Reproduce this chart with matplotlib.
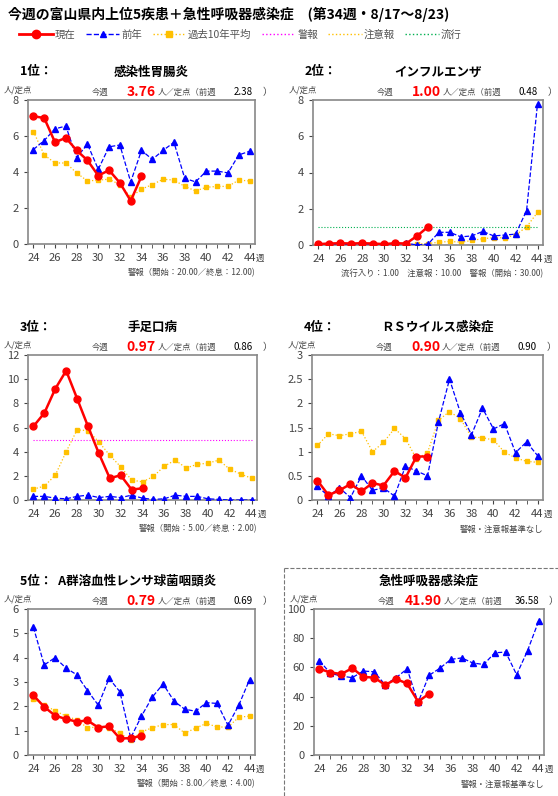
import matplotlib
matplotlib.use("Agg")
import matplotlib.pyplot as plt
from matplotlib.lines import Line2D
import numpy as np

plt.rcParams['font.family'] = ['Noto Sans CJK JP', 'DejaVu Sans']

weeks_cur = list(range(24, 35))
weeks_all = list(range(24, 45))

ranks = ["1位：", "2位：", "3位：", "4位：", "5位：  A群溶血性レンサ球菌咽頭炎", ""]
names = ["感染性胃腸炎", "インフルエンザ", "手足口病", "ＲＳウイルス感染症", "", "急性呼吸器感染症"]
this_week = ["3.76", "1.00", "0.97", "0.90", "0.79", "41.90"]
last_week = ["2.38", "0.48", "0.86", "0.90", "0.69", "36.58"]
notes = ["警報（開始：20.00／終息：12.00)", "流行入り：1.00　注意報：10.00　警報（開始：30.00)",
         "警報（開始：5.00／終息：2.00)", "警報・注意報基準なし",
         "警報（開始：8.00／終息：4.00)", "警報・注意報基準なし"]
ymax = [8, 8, 12, 3, 6, 100]
ystep = [2, 2, 2, 0.5, 1, 20]

current = [
    [7.1, 7.0, 5.65, 5.9, 5.2, 4.65, 3.8, 4.1, 3.4, 2.4, 3.76],
    [0.05, 0.08, 0.1, 0.08, 0.1, 0.08, 0.05, 0.1, 0.08, 0.5, 1.0],
    [6.1, 7.2, 9.2, 10.7, 8.4, 6.1, 3.85, 1.8, 2.05, 0.86, 0.97],
    [0.4, 0.1, 0.2, 0.33, 0.18, 0.35, 0.3, 0.6, 0.46, 0.9, 0.9],
    [2.45, 1.98, 1.62, 1.48, 1.37, 1.42, 1.13, 1.18, 0.68, 0.69, 0.79],
    [59, 56.5, 55.5, 59.5, 53.5, 53, 48, 52, 49, 36.58, 41.9],
]
previous = [
    [5.25, 5.75, 6.4, 6.55, 4.8, 5.55, 4.15, 5.4, 5.5, 3.45, 5.2, 4.7, 5.2, 5.65, 3.65, 3.45, 4.05, 4.05, 3.95, 4.95, 5.15],
    [0.02, 0.05, 0.05, 0.03, 0.0, 0.0, 0.02, 0.05, 0.1, 0.0, 0.05, 0.7, 0.7, 0.45, 0.5, 0.75, 0.5, 0.55, 0.6, 1.9, 7.8],
    [0.3, 0.3, 0.15, 0.1, 0.3, 0.4, 0.2, 0.3, 0.2, 0.4, 0.15, 0.05, 0.1, 0.4, 0.3, 0.3, 0.1, 0.05, 0.0, 0.0, 0.0],
    [0.28, 0.08, 0.25, 0.05, 0.5, 0.2, 0.25, 0.08, 0.7, 0.6, 0.5, 1.62, 2.5, 1.8, 1.35, 1.9, 1.47, 1.58, 0.98, 1.2, 0.92],
    [5.25, 3.7, 4.0, 3.58, 3.3, 2.65, 2.05, 3.15, 2.6, 0.7, 1.6, 2.38, 2.92, 2.22, 1.88, 1.8, 2.15, 2.12, 1.22, 2.05, 3.1],
    [64.5, 56, 54, 53, 57.5, 57, 48, 53, 59, 36, 54.5, 59.5, 65.5, 66.5, 63, 62, 70, 70.5, 55, 71.5, 91.5],
]
average = [
    [6.25, 4.95, 4.5, 4.5, 3.95, 3.5, 3.55, 3.6, 3.3, 2.6, 3.05, 3.3, 3.6, 3.55, 3.2, 2.95, 3.15, 3.2, 3.2, 3.55, 3.5],
    [0.02, 0.02, 0.02, 0.02, 0.02, 0.02, 0.02, 0.02, 0.03, 0.05, 0.08, 0.15, 0.2, 0.15, 0.25, 0.35, 0.4, 0.4, 0.55, 1.0, 1.8],
    [0.9, 1.15, 2.05, 4.0, 5.8, 5.75, 4.8, 3.7, 2.75, 1.65, 1.5, 1.95, 2.8, 3.3, 2.65, 2.95, 3.05, 3.3, 2.55, 2.15, 1.8],
    [1.13, 1.37, 1.33, 1.37, 1.42, 1.0, 1.19, 1.48, 1.27, 0.85, 0.98, 1.65, 1.83, 1.68, 1.3, 1.29, 1.24, 0.99, 0.87, 0.8, 0.78],
    [2.3, 2.05, 1.82, 1.6, 1.45, 1.12, 1.15, 1.12, 0.9, 0.6, 0.95, 1.12, 1.25, 1.25, 0.9, 1.1, 1.3, 1.15, 1.15, 1.55, 1.6],
    None,
]
warn_line = [None, None, 5, None, None, None]
epi_line = [None, 1.0, None, None, None, None]

W, H = 558, 796
fig = plt.figure(figsize=(W / 100, H / 100), dpi=100)

boxes = [(28, 100, 255, 244), (313, 100, 543, 245), (28, 355, 257, 500),
         (312, 355, 543, 500), (28, 609, 255, 755), (314, 609, 544, 755)]

def fx(x): return x / W
def fy(y): return 1 - y / H

fig.text(fx(8), fy(14), "今週の富山県内上位5疾患＋急性呼吸器感染症　(第34週・8/17～8/23)",
         fontsize=10, fontweight='bold', va='center')

handles = [
    Line2D([], [], color='red', lw=2, marker='o', ms=6),
    Line2D([], [], color='blue', lw=1, ls='--', marker='^', ms=5),
    Line2D([], [], color='#FFC000', lw=1, ls=':', marker='s', ms=5),
    Line2D([], [], color='#FF00FF', lw=1, ls=':'),
    Line2D([], [], color='#FFC000', lw=1, ls=':'),
    Line2D([], [], color='#00B050', lw=1, ls=':'),
]
labels = ["現在", "前年", "過去10年平均", "警報", "注意報", "流行"]
leg = fig.legend(handles, labels, loc='center left', bbox_to_anchor=(fx(10), fy(35)), ncol=6,
                 frameon=False, fontsize=7.5, handlelength=3.2, columnspacing=1.0, handletextpad=0.2)
for t in leg.get_texts():
    t.set_color('#555555')

for i, (l, t, r, b) in enumerate(boxes):
    ax = fig.add_axes([fx(l), fy(b), fx(r) - fx(l), (b - t) / H])
    ax.plot(weeks_all, previous[i], color='blue', lw=0.9, ls='--', marker='^', ms=4.5, zorder=3)
    if average[i] is not None:
        ax.plot(weeks_all, average[i], color='#FFC000', lw=0.9, ls=':', marker='s', ms=3.5, zorder=2)
    ax.plot(weeks_cur, current[i], color='red', lw=1.8, marker='o', ms=5, zorder=4)
    if warn_line[i] is not None:
        ax.axhline(warn_line[i], xmin=0.02, xmax=0.98, color='#FF00FF', lw=0.8, ls=':')
    if epi_line[i] is not None:
        ax.axhline(epi_line[i], xmin=0.02, xmax=0.98, color='#00B050', lw=0.8, ls=':')
    ax.set_xlim(23.5, 44.5)
    ax.set_ylim(0, ymax[i])
    ax.set_yticks(np.arange(0, ymax[i] + 1e-9, ystep[i]))
    ax.set_yticklabels([f"{v:g}" for v in np.arange(0, ymax[i] + 1e-9, ystep[i])])
    ax.set_xticks(range(24, 45, 2))
    ax.set_xticks(range(24, 45), minor=True)
    ax.tick_params(labelsize=8, colors='#444444', length=3, direction='out')
    ax.tick_params(which='minor', length=3, color='#444444')
    for s in ax.spines.values():
        s.set_color('#888888'); s.set_linewidth(1.2)
    cx = (l + r) / 2
    if i == 4:
        fig.text(fx(l - 8), fy(t - 28), ranks[i], fontsize=9, fontweight='bold', va='center')
    elif i == 5:
        fig.text(fx(cx), fy(t - 28), names[i], fontsize=9, fontweight='bold', va='center', ha='center')
    else:
        fig.text(fx(l - 8), fy(t - 28), ranks[i], fontsize=9, fontweight='bold', va='center')
        fig.text(fx(cx + 10), fy(t - 28), names[i], fontsize=9, fontweight='bold', va='center', ha='center')
    fig.text(fx(l - 24), fy(t - 10), "人/定点", fontsize=6, color='#444444', va='center')
    fig.text(fx(l + 64), fy(t - 8), "今週", fontsize=6, color='#444444', va='center')
    fig.text(fx(l + 128), fy(t - 8), this_week[i], fontsize=10, color='red', fontweight='bold', va='center', ha='right')
    fig.text(fx(l + 130), fy(t - 8), "人／定点（前週", fontsize=6, color='#444444', va='center')
    fig.text(fx(l + 225), fy(t - 8), last_week[i], fontsize=7, color='black', va='center', ha='right')
    fig.text(fx(l + 235), fy(t - 8), "）", fontsize=7, color='#444444', va='center')
    fig.text(fx(r + 1), fy(b + 14), "週", fontsize=6, color='#444444', va='center')
    fig.text(fx(r), fy(b + 29), notes[i], fontsize=6, color='#444444', va='center', ha='right')

fig.add_artist(Line2D([fx(284), fx(284)], [fy(568), fy(796)], color='#777777', lw=0.8, ls='--'))
fig.add_artist(Line2D([fx(284), fx(558)], [fy(568), fy(568)], color='#777777', lw=0.8, ls='--'))

fig.savefig("out.png", dpi=100)
